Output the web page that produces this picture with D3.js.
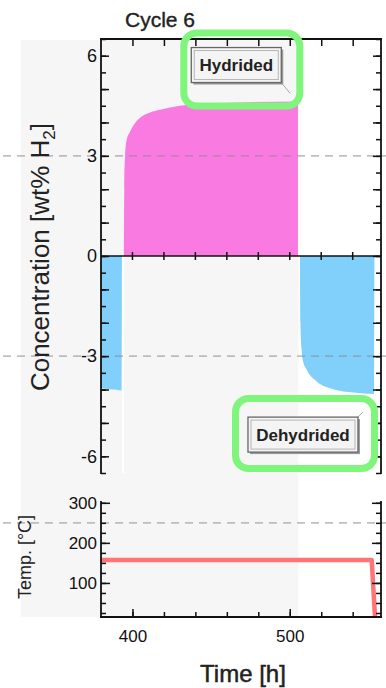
<!DOCTYPE html>
<html>
<head>
<meta charset="utf-8">
<script src="https://cdn.jsdelivr.net/npm/d3@7"></script>
<style>
  body { margin: 0; background: #fff; }
  text { font-family: "Liberation Sans", Arial, sans-serif; }
</style>
</head>
<body>
<svg id="chart" width="386" height="688"></svg>
<script>
// hydriding (absorption) curve, cycle 6  [time h, wt% H2]
var hydTime = [394.6, 394.8, 395.3, 396.2, 398.4, 401.6, 404.8, 411.2, 417.5, 430.2, 442.9, 468.4, 505.2, 505.3];
var hydConc = [0, 2.0, 3.0, 3.45, 3.72, 3.98, 4.14, 4.30, 4.38, 4.50, 4.56, 4.60, 4.63, 0];

// dehydriding (desorption) curves, plotted negative
var dehyd1Time = [380, 385, 390, 393.2, 393.3];
var dehyd1Conc = [-3.96, -3.99, -4.01, -4.03, 0];
var dehyd2Time = [506.5, 506.8, 507.4, 508.2, 510.8, 517.1, 527.7, 540.4, 553.1, 553.7, 553.8];
var dehyd2Conc = [0, -2.0, -2.71, -3.1, -3.41, -3.76, -3.99, -4.09, -4.13, -4.13, 0];

// furnace temperature
var tempTime = [380, 552.1, 554.2];
var tempVal = [157, 157, 15];

var hydridedPeriod = [380, 505.5];   // grey shaded time window
var gapPeriod = [393.3, 394.6];      // white gap under the first desorption

var xTicksMajor = [400, 500];
var xTicksMinor = [400, 420, 440, 460, 480, 500, 520, 540];
var concTicksMajor = [-6, -3, 0, 3, 6];
var concTicksMinor = d3.range(-6.5, 6.51, 0.5);
var tempTicksMajor = [100, 200, 300];
var tempTicksMinor = [25, 50, 75, 100, 125, 150, 175, 200, 225, 250, 275, 300];
var dashConc = [3, -3];
var dashTemp = [250];

var annotations = [
    {label: "Hydrided", t: 466, c: 5.72, w: 90, h: 35, pad: {l: 7.5, r: 18.5, t: 14.5, b: 23.5}, lead: [0, 0, 9, 11]},
    {label: "Dehydrided", t: 508.4, c: -5.35, w: 110, h: 35, pad: {l: 12.5, r: 16.5, t: 18.5, b: 16.5}, lead: [0, 1, 5, -5]}
];

var svg = d3.select("#chart");

var x = d3.scaleLinear().domain([380, 558]).range([101, 381]);
var yConc = d3.scaleLinear().domain([-6.5, 6.5]).range([473, 39]);
var yTemp = d3.scaleLinear().domain([15, 302]).range([617, 502]);

var pink = "#f97be2";
var blue = "#80d0fb";
var green = "#80f57c";

// shaded background
svg.append("rect")
    .attr("x", 21)
    .attr("y", 40)
    .attr("width", x(hydridedPeriod[1]) - 21)
    .attr("height", yTemp(15) - 40)
    .attr("fill", "#f6f6f6");

var clip = svg.append("clipPath").attr("id", "clipConc")
    .append("rect")
    .attr("x", x(380)).attr("y", yConc(6.5))
    .attr("width", x(558) - x(380)).attr("height", yConc(-6.5) - yConc(6.5));

function toPts(ts, vs) {
    return ts.map(function(t, i) { return [t, vs[i]]; });
}

var area = d3.area()
    .x(function(d) { return x(d[0]); })
    .y0(function(d) { return yConc(0); })
    .y1(function(d) { return yConc(d[1]); })
    .curve(d3.curveMonotoneX);

var plot = svg.append("g").attr("clip-path", "url(#clipConc)");

plot.append("rect")
    .attr("x", x(gapPeriod[0]))
    .attr("y", yConc(0))
    .attr("width", x(gapPeriod[1]) - x(gapPeriod[0]))
    .attr("height", yConc(-6.5) - yConc(0))
    .attr("fill", "#fff");

plot.append("path")
    .datum(toPts(hydTime, hydConc))
    .attr("d", area)
    .attr("fill", pink);

plot.append("path")
    .datum(toPts(dehyd1Time, dehyd1Conc))
    .attr("d", area)
    .attr("fill", blue);

plot.append("path")
    .datum(toPts(dehyd2Time, dehyd2Conc))
    .attr("d", area)
    .attr("fill", blue);

// dashed reference lines
svg.selectAll("line.dashc")
    .data(dashConc)
    .enter().append("line")
    .attr("class", "dashc")
    .attr("x1", 3).attr("x2", 386)
    .attr("y1", function(d) { return yConc(d); })
    .attr("y2", function(d) { return yConc(d); })
    .attr("stroke", "rgba(140,140,140,0.55)")
    .attr("stroke-width", 1.6)
    .attr("stroke-dasharray", "8,6");

svg.selectAll("line.dasht")
    .data(dashTemp)
    .enter().append("line")
    .attr("class", "dasht")
    .attr("x1", 3).attr("x2", 386)
    .attr("y1", function(d) { return yTemp(d); })
    .attr("y2", function(d) { return yTemp(d); })
    .attr("stroke", "rgba(140,140,140,0.55)")
    .attr("stroke-width", 1.6)
    .attr("stroke-dasharray", "8,6");

// temperature trace
svg.append("path")
    .datum(toPts(tempTime, tempVal))
    .attr("d", d3.line()
        .x(function(d) { return x(d[0]); })
        .y(function(d) { return yTemp(d[1]); }))
    .attr("fill", "none")
    .attr("stroke", "#ff7474")
    .attr("stroke-width", 4.5)
    .attr("stroke-linejoin", "round");

function styleAxis(g) {
    g.select(".domain").remove();
    g.selectAll("line").attr("stroke", "#111").attr("stroke-width", 1.5);
    return g;
}

// concentration panel axes
styleAxis(svg.append("g").attr("transform", "translate(" + x(380) + ",0)")
    .call(d3.axisLeft(yConc).tickValues(concTicksMinor).tickFormat("").tickSize(-5)));
styleAxis(svg.append("g").attr("transform", "translate(" + x(380) + ",0)")
    .call(d3.axisLeft(yConc).tickValues(d3.range(-6, 6.1, 1)).tickFormat("").tickSize(-8)));
var concLab = styleAxis(svg.append("g").attr("transform", "translate(" + x(380) + ",0)")
    .call(d3.axisLeft(yConc).tickValues(concTicksMajor).tickSize(0).tickPadding(4)
        .tickFormat(function(d) { return d < 0 ? "-" + Math.abs(d) : d; })));
concLab.selectAll("text").attr("font-size", 18).attr("fill", "#111");

styleAxis(svg.append("g").attr("transform", "translate(" + x(558) + ",0)")
    .call(d3.axisRight(yConc).tickValues(concTicksMinor).tickFormat("").tickSize(-5)));
styleAxis(svg.append("g").attr("transform", "translate(" + x(558) + ",0)")
    .call(d3.axisRight(yConc).tickValues(d3.range(-6, 6.1, 1)).tickFormat("").tickSize(-8)));

styleAxis(svg.append("g").attr("transform", "translate(0," + yConc(6.5) + ")")
    .call(d3.axisTop(x).tickValues(xTicksMinor).tickFormat("").tickSize(-7)));

// zero line with crossing ticks
svg.append("line")
    .attr("x1", x(380)).attr("x2", x(558))
    .attr("y1", yConc(0)).attr("y2", yConc(0))
    .attr("stroke", "#111").attr("stroke-width", 1.6);
svg.selectAll("line.zt")
    .data(xTicksMinor)
    .enter().append("line")
    .attr("class", "zt")
    .attr("x1", function(d) { return x(d); })
    .attr("x2", function(d) { return x(d); })
    .attr("y1", yConc(0) - 4).attr("y2", yConc(0) + 4)
    .attr("stroke", "#111").attr("stroke-width", 1.5);

// temperature panel axes
styleAxis(svg.append("g").attr("transform", "translate(" + x(380) + ",0)")
    .call(d3.axisLeft(yTemp).tickValues(tempTicksMinor).tickFormat("").tickSize(-5)));
var tempLab = styleAxis(svg.append("g").attr("transform", "translate(" + x(380) + ",0)")
    .call(d3.axisLeft(yTemp).tickValues(tempTicksMajor).tickSize(-9).tickPadding(4)));
tempLab.selectAll("text").attr("font-size", 17).attr("fill", "#111");

styleAxis(svg.append("g").attr("transform", "translate(" + x(558) + ",0)")
    .call(d3.axisRight(yTemp).tickValues(tempTicksMinor).tickFormat("").tickSize(-5)));
styleAxis(svg.append("g").attr("transform", "translate(" + x(558) + ",0)")
    .call(d3.axisRight(yTemp).tickValues(tempTicksMajor).tickFormat("").tickSize(-9)));

styleAxis(svg.append("g").attr("transform", "translate(0," + yTemp(15) + ")")
    .call(d3.axisBottom(x).tickValues(xTicksMinor).tickFormat("").tickSize(-5)));
var xLab = styleAxis(svg.append("g").attr("transform", "translate(0," + yTemp(15) + ")")
    .call(d3.axisBottom(x).tickValues(xTicksMajor).tickSize(-8).tickPadding(13)));
xLab.selectAll("text").attr("font-size", 17).attr("fill", "#111");

// frame lines
var frame = [
    [x(380), yConc(6.5), x(558), yConc(6.5)],
    [x(380), yConc(6.5), x(380), yConc(-6.5)],
    [x(558), yConc(6.5), x(558), yConc(-6.5)],
    [x(380), yTemp(302), x(380), yTemp(15)],
    [x(558), yTemp(302), x(558), yTemp(15)],
    [x(380), yTemp(15), x(558), yTemp(15)]
];
svg.selectAll("line.frame")
    .data(frame)
    .enter().append("line")
    .attr("class", "frame")
    .attr("x1", function(d) { return d[0]; })
    .attr("y1", function(d) { return d[1]; })
    .attr("x2", function(d) { return d[2]; })
    .attr("y2", function(d) { return d[3]; })
    .attr("stroke", "#111")
    .attr("stroke-width", 1.8)
    .attr("stroke-linecap", "square");

// annotation labels with green highlight
annotations.forEach(function(a) {
    var cx = x(a.t), cy = yConc(a.c);
    var g = svg.append("g");
    var bx = cx - a.w / 2, by = cy - a.h / 2;

    g.append("line")
        .attr("x1", bx + a.w + a.lead[0]).attr("y1", a.lead[3] > 0 ? by + a.h : by)
        .attr("x2", bx + a.w + a.lead[2]).attr("y2", (a.lead[3] > 0 ? by + a.h : by) + a.lead[3])
        .attr("stroke", "#aaa").attr("stroke-width", 1);

    g.append("rect")
        .attr("x", bx + 2).attr("y", by + 2)
        .attr("width", a.w).attr("height", a.h)
        .attr("fill", "#9a9a9a");
    g.append("rect")
        .attr("x", bx).attr("y", by)
        .attr("width", a.w).attr("height", a.h)
        .attr("fill", "#f4f4f4")
        .attr("stroke", "#666").attr("stroke-width", 1.3);
    g.append("rect")
        .attr("x", bx + 3).attr("y", by + 3)
        .attr("width", a.w - 6).attr("height", a.h - 6)
        .attr("fill", "none")
        .attr("stroke", "#b5b5b5").attr("stroke-width", 1);
    g.append("text")
        .attr("x", cx).attr("y", cy + 6)
        .attr("text-anchor", "middle")
        .attr("font-size", 17)
        .attr("font-weight", "bold")
        .attr("fill", "#222")
        .text(a.label);

    g.append("rect")
        .attr("x", bx - a.pad.l).attr("y", by - a.pad.t)
        .attr("width", a.w + a.pad.l + a.pad.r)
        .attr("height", a.h + a.pad.t + a.pad.b)
        .attr("rx", 13).attr("ry", 13)
        .attr("fill", "none")
        .attr("stroke", green)
        .attr("stroke-width", 7);
});

// titles
svg.append("text")
    .attr("x", 160).attr("y", 27)
    .attr("text-anchor", "middle")
    .attr("font-size", 21)
    .attr("fill", "#222")
    .attr("stroke", "#222").attr("stroke-width", 0.4)
    .text("Cycle 6");

svg.append("text")
    .attr("x", 243).attr("y", 682)
    .attr("text-anchor", "middle")
    .attr("font-size", 24)
    .attr("fill", "#222")
    .attr("stroke", "#222").attr("stroke-width", 0.5)
    .text("Time [h]");

var yl = svg.append("text")
    .attr("transform", "translate(49,257) rotate(-90)")
    .attr("text-anchor", "middle")
    .attr("font-size", 26)
    .attr("fill", "#222");
yl.append("tspan").text("Concentration [wt% H");
yl.append("tspan").attr("font-size", 17).attr("dy", 6).text("2");
yl.append("tspan").attr("dy", -6).text("]");

svg.append("text")
    .attr("transform", "translate(31,557) rotate(-90)")
    .attr("text-anchor", "middle")
    .attr("font-size", 18)
    .attr("fill", "#222")
    .text("Temp. [°C]");
</script>
</body>
</html>
